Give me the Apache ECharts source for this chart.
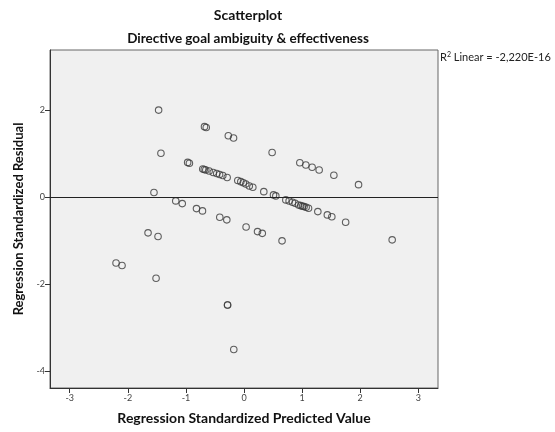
<!DOCTYPE html>
<html>
<head>
<meta charset="utf-8">
<script src="https://cdn.jsdelivr.net/npm/echarts@6/dist/echarts.min.js"></script>
<style>
  html, body { margin: 0; padding: 0; background: #fff; }
  #chart { width: 555px; height: 432px; }
</style>
</head>
<body>
<div id="chart"></div>
<script>
// Standardized predicted values (x) and standardized residuals (y)
const predicted = [
  -1.47, -1.43, -1.55, -0.68, -0.65, -0.27, -0.18, -0.97, -0.94,
  -0.71, -0.684, -0.658, -0.60, -0.53, -0.47, -0.42, -0.365, -0.29,
  -0.107, -0.055, -0.012, 0.031, 0.091, 0.152, 0.341,
  0.484, 0.961, 1.065, 1.173, 1.294, 1.547, 1.972,
  0.508, 0.548, 0.720, 0.777, 0.835, 0.880, 0.939, 0.978, 1.008, 1.035, 1.070, 1.111, 1.271, 1.435, 1.512, 1.750,
  -1.175, -1.063, -0.818, -0.715, -0.417, -0.296, 0.036, 0.233, 0.315, 0.655,
  -1.652, -1.480, -2.203, -2.100, -1.514, -0.283, -0.283, -0.176, 2.551
];
const residual = [
  2.00, 1.01, 0.11, 1.62, 1.60, 1.41, 1.36, 0.80, 0.78,
  0.649, 0.637, 0.626, 0.603, 0.569, 0.546, 0.523, 0.500, 0.454,
  0.385, 0.358, 0.332, 0.305, 0.259, 0.229, 0.128,
  1.027, 0.793, 0.740, 0.688, 0.626, 0.504, 0.289,
  0.053, 0.030, -0.062, -0.085, -0.115, -0.138, -0.177, -0.193, -0.206, -0.215, -0.229, -0.252, -0.330, -0.406, -0.447, -0.573,
  -0.085, -0.147, -0.261, -0.314, -0.459, -0.520, -0.685, -0.789, -0.830, -1.002,
  -0.818, -0.903, -1.511, -1.568, -1.862, -2.476, -2.476, -3.496, -0.979
];
const xTicks = [-3, -2, -1, 0, 1, 2, 3];
const yTicks = [-4, -2, 0, 2];
const fitLabel = ' Linear = -2,220E-16';

const points = predicted.map((v, i) => [v, residual[i]]);
const font = 'Lato, "DejaVu Sans", sans-serif';

const chart = echarts.init(document.getElementById('chart'), null, { renderer: 'canvas' });
chart.setOption({
  animation: false,
  backgroundColor: '#ffffff',
  title: [
    { text: 'Scatterplot', left: 243, top: 3, textAlign: 'center',
      textStyle: { fontFamily: font, fontSize: 14, fontWeight: 'bold', color: '#111' } },
    { text: 'Directive goal ambiguity & effectiveness', left: 243, top: 27, textAlign: 'center',
      textStyle: { fontFamily: font, fontSize: 13.5, fontWeight: 'bold', color: '#111' } }
  ],
  grid: {
    left: 50, top: 50, right: 117, bottom: 44,
    show: true, backgroundColor: '#f0f0f0', borderColor: '#666', borderWidth: 1
  },
  xAxis: {
    type: 'value', min: -3.34, max: 3.34,
    name: 'Regression Standardized Predicted Value',
    nameLocation: 'middle', nameGap: 23,
    nameTextStyle: { fontFamily: font, fontSize: 14, fontWeight: 'bold', color: '#111' },
    splitLine: { show: false },
    axisLine: { show: true, onZero: false, lineStyle: { color: '#333', width: 1 } },
    axisTick: { show: true, length: 5, customValues: xTicks, lineStyle: { color: '#333' } },
    axisLabel: { customValues: xTicks, fontFamily: font, fontSize: 9, color: '#444', margin: 6 }
  },
  yAxis: {
    type: 'value', min: -4.38, max: 3.38,
    name: 'Regression Standardized Residual',
    nameLocation: 'middle', nameGap: 24,
    nameTextStyle: { fontFamily: font, fontSize: 13, fontWeight: 'bold', color: '#111' },
    splitLine: { show: false },
    axisLine: { show: true, onZero: false, lineStyle: { color: '#333', width: 1 } },
    axisTick: { show: true, length: 5, customValues: yTicks, lineStyle: { color: '#333' } },
    axisLabel: { customValues: yTicks, fontFamily: font, fontSize: 9, color: '#444', margin: 5 }
  },
  series: [{
    type: 'scatter',
    data: points,
    symbol: 'circle',
    symbolSize: 6.5,
    itemStyle: { color: 'rgba(0,0,0,0)', borderColor: '#3a3a3a', borderWidth: 1.1 },
    markLine: {
      silent: true,
      symbol: ['none', 'none'],
      label: { show: false },
      lineStyle: { color: '#222', width: 1, type: 'solid' },
      data: [{ yAxis: 0 }]
    }
  }],
  graphic: [{
    type: 'text',
    left: 440, top: 51,
    style: {
      text: '{b|R}{s|2}{b|' + fitLabel + '}',
      rich: {
        b: { fontFamily: font, fontSize: 11, fill: '#222' },
        s: { fontFamily: font, fontSize: 7, fill: '#222', verticalAlign: 'top', padding: [0, 0, 5, 0] }
      }
    }
  }]
});
</script>
</body>
</html>
